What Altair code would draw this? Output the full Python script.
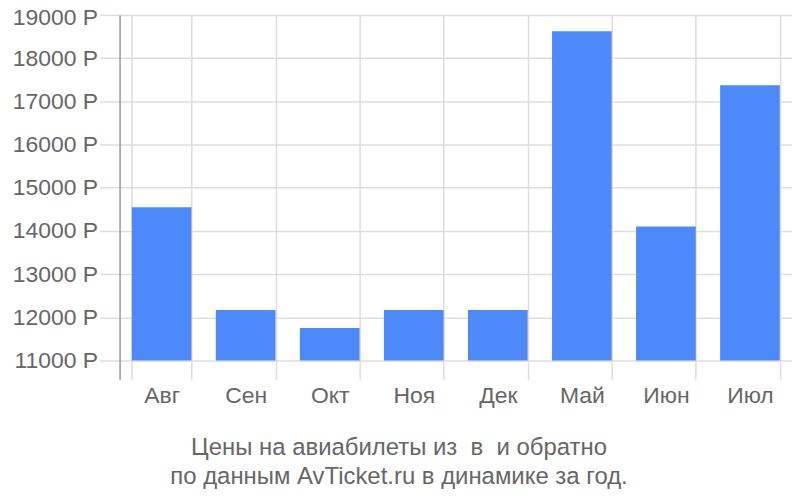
import altair as alt
import pandas as pd

months = ["Авг", "Сен", "Окт", "Ноя", "Дек", "Май", "Июн", "Июл"]
prices = [14550, 12170, 11750, 12170, 12170, 18620, 14100, 17370]
y_ticks = [11000, 12000, 13000, 14000, 15000, 16000, 17000, 18000, 19000]
title_lines = ["Цены на авиабилеты из\u00a0\u00a0в\u00a0\u00a0и обратно",
               "по данным AvTicket.ru в динамике за год."]

df = pd.DataFrame({"month": months, "price": prices})
df["base"] = 11000

chart = alt.Chart(df).mark_bar(color="#4d89f9").encode(
    x=alt.X("month:N", sort=months, title=None,
            scale=alt.Scale(paddingInner=0.29, paddingOuter=0.145),
            axis=alt.Axis(grid=True, tickBand="extent", ticks=False, domain=False,
                          labelAngle=0, labelFontSize=23, labelColor="#666666",
                          labelFont="Liberation Sans", labelPadding=5,
                          gridColor="#dddddd", gridWidth=1.5)),
    y=alt.Y("price:Q", title=None,
            scale=alt.Scale(domain=[10560, 19000], nice=False, zero=False),
            axis=alt.Axis(values=y_ticks, labelExpr="datum.value + ' Р'",
                          labelFontSize=23, labelColor="#666666",
                          labelFont="Liberation Sans", labelPadding=2,
                          labelOffset={"condition": {"test": "datum.value == 19000", "value": 3}, "value": 0},
                          tickSize=20, tickColor="#dddddd", tickWidth=1.5,
                          grid=True, gridColor="#dddddd", gridWidth=1.5,
                          domainColor="#999999", domainWidth=1.5)),
    y2="base:Q",
).properties(
    width=675, height=366,
    title=alt.TitleParams(title_lines, orient="bottom", fontSize=24,
                          font="Liberation Sans", fontWeight="normal",
                          color="#666666", lineHeight=29, offset=29, dx=-57),
    autosize="none",
    padding={"left": 112, "top": 6, "right": 0, "bottom": 112},
).configure_view(stroke=None)

chart.save("out.html", embed_options={"renderer": "svg", "actions": False})
